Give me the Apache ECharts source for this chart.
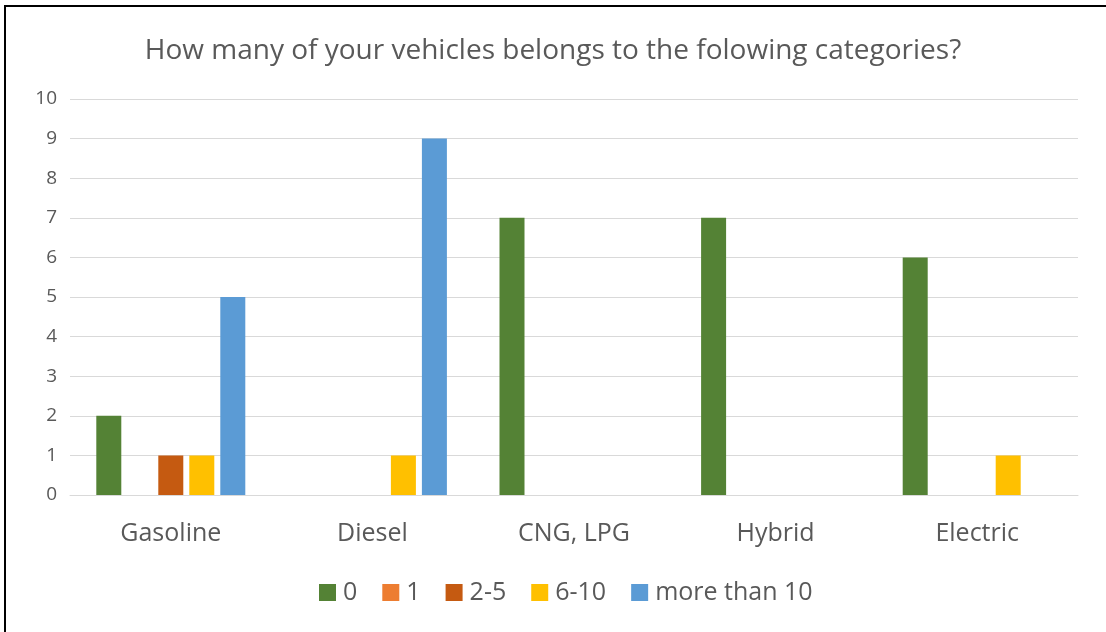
<!DOCTYPE html>
<html>
<head>
<meta charset="utf-8">
<script src="https://cdn.jsdelivr.net/npm/echarts@6/dist/echarts.min.js"></script>
<style>
  html, body { margin: 0; padding: 0; background: #fff; overflow: hidden; }
  #frame { position: absolute; left: 4px; top: 5px; width: 1120px; height: 650px; border: 2px solid #000; box-sizing: border-box; }
  #chart { position: absolute; left: 0; top: 0; width: 1106px; height: 632px; }
</style>
</head>
<body>
<div id="frame"></div>
<div id="chart"></div>
<script>
const categories = ["Gasoline", "Diesel", "CNG, LPG", "Hybrid", "Electric"];
const seriesNames = ["0", "1", "2-5", "6-10", "more than 10"];
const colors = ["#548235", "#ED7D31", "#C55A11", "#FFC000", "#5B9BD5"];
const vals0 = [2, 0, 7, 7, 6];
const vals1 = [0, 0, 0, 0, 0];
const vals2to5 = [1, 0, 0, 0, 0];
const vals6to10 = [1, 1, 0, 0, 1];
const valsOver10 = [5, 9, 0, 0, 0];
const yTicks = [0, 10, 1];

const allValues = [vals0, vals1, vals2to5, vals6to10, valsOver10];
const font = "Open Sans";
const textColor = "#595959";

const myChart = echarts.init(document.getElementById("chart"));

const option = {
  animation: false,
  title: {
    text: "How many of your vehicles belongs to the folowing categories?",
    left: "center",
    top: 32,
    textStyle: { fontFamily: font, fontSize: 28, fontWeight: "normal", color: textColor },
  },
  legend: {
    data: seriesNames,
    bottom: 22,
    left: 314,
    itemWidth: 17,
    itemHeight: 17,
    itemGap: 25,
    icon: "rect",
    textStyle: { fontFamily: font, fontSize: 25, color: textColor, padding: [0, 0, 0, 2] },
  },
  grid: { left: 70, right: 28, top: 99, bottom: 137, containLabel: false },
  xAxis: {
    type: "category",
    data: categories,
    axisLine: { lineStyle: { color: "#d9d9d9", width: 1 } },
    axisTick: { show: false },
    axisLabel: { fontFamily: font, fontSize: 25, color: textColor, margin: 26 },
  },
  yAxis: {
    type: "value",
    min: yTicks[0],
    max: yTicks[1],
    interval: yTicks[2],
    axisLine: { show: false },
    axisTick: { show: false },
    splitLine: { lineStyle: { color: "#d9d9d9", width: 1 } },
    axisLabel: { fontFamily: font, fontSize: 19, color: textColor, margin: 13 },
  },
  series: seriesNames.map((name, i) => ({
    name: name,
    type: "bar",
    data: allValues[i],
    barWidth: 25,
    barGap: "24%",
    itemStyle: { color: colors[i] },
  })),
};

myChart.setOption(option);
</script>
</body>
</html>
